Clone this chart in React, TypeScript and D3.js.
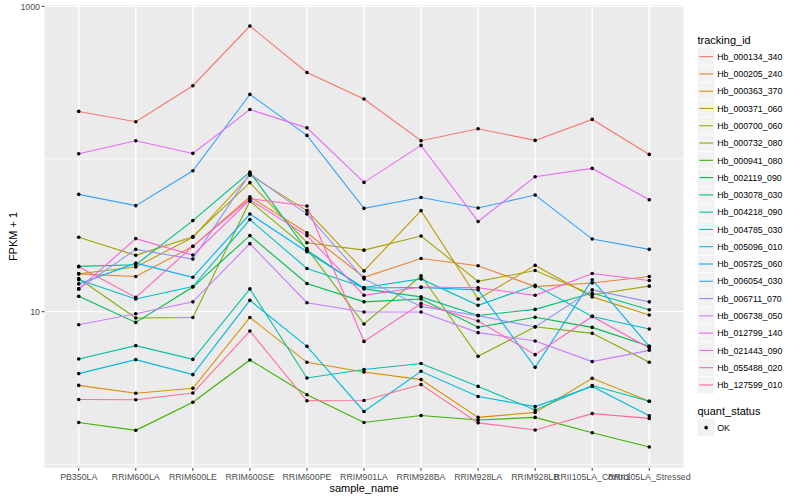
import React from "react";
import * as d3 from "d3";

const sampleNames = [
  "PB350LA", "RRIM600LA", "RRIM600LE", "RRIM600SE", "RRIM600PE", "RRIM901LA",
  "RRIM928BA", "RRIM928LA", "RRIM928LB", "RRII105LA_Control", "RRII105LA_Stressed",
];

const trackingIds = [
  "Hb_000134_340", "Hb_000205_240", "Hb_000363_370", "Hb_000371_060", "Hb_000700_060",
  "Hb_000732_080", "Hb_000941_080", "Hb_002119_090", "Hb_003078_030", "Hb_004218_090",
  "Hb_004785_030", "Hb_005096_010", "Hb_005725_060", "Hb_006054_030", "Hb_006711_070",
  "Hb_006738_050", "Hb_012799_140", "Hb_021443_090", "Hb_055488_020", "Hb_127599_010",
];

const hueColors = [
  "#F8766D", "#EA8331", "#D89000", "#C09B00", "#A3A500", "#7CAE00", "#39B600",
  "#00BB4E", "#00BF7D", "#00C1A3", "#00BFC4", "#00BAE0", "#00B0F6", "#35A2FF",
  "#9590FF", "#C77CFF", "#E76BF3", "#FA62DB", "#FF62BC", "#FF6C91",
];

// FPKM + 1 per sample, one array per tracking_id
const hb000134_340 = [205, 175.5, 302, 743, 369, 247, 131.8, 157.9, 132.4, 181.7, 107.2];
const hb000205_240 = [17.7, 17.0, 26.8, 56.6, 32.9, 16.8, 22.3, 20.0, 14.6, 15.4, 17.0];
const hb000363_370 = [3.29, 2.92, 3.15, 9.17, 4.66, 4.03, 3.59, 2.03, 2.19, 3.66, 2.59];
const hb000371_060 = [17.7, 19.6, 30.7, 78.4, 45.9, 18.5, 45.9, 12.1, 20.1, 12.5, 9.51];
const hb000700_060 = [30.7, 23.4, 31.0, 70.0, 28.3, 25.3, 31.3, 15.8, 18.6, 12.9, 14.7];
const hb000732_080 = [16.5, 9.09, 9.16, 52.9, 25.9, 8.30, 17.2, 5.10, 7.97, 7.21, 4.66];
const hb000941_080 = [1.88, 1.67, 2.55, 4.83, 2.86, 1.88, 2.09, 1.95, 2.03, 1.61, 1.30];
const hb002119_090 = [12.6, 8.51, 14.5, 31.5, 15.3, 11.6, 12.1, 7.91, 9.20, 7.89, 5.93];
const hb003078_030 = [19.8, 20.3, 39.5, 82.0, 25.3, 14.1, 12.5, 9.45, 10.35, 13.25, 10.3];
const hb004218_090 = [4.90, 5.99, 4.87, 14.1, 3.68, 4.18, 4.58, 3.24, 2.27, 3.28, 2.59];
const hb004785_030 = [16.2, 12.1, 14.6, 40.1, 19.2, 14.4, 16.4, 11.0, 14.9, 9.31, 7.71];
const hb005096_010 = [3.93, 4.85, 3.87, 11.86, 5.93, 2.22, 4.07, 2.78, 2.39, 3.24, 2.08];
const hb005725_060 = [15.2, 20.8, 16.8, 43.6, 24.7, 14.3, 14.4, 13.9, 4.32, 16.2, 5.93];
const hb006054_030 = [58.7, 49.5, 83.8, 265, 142.8, 47.5, 56.0, 47.8, 58.1, 29.9, 25.6];
const hb006711_070 = [14.1, 25.6, 22.1, 80.2, 43.6, 16.4, 10.8, 9.42, 7.94, 13.9, 11.6];
const hb006738_050 = [8.21, 9.70, 11.6, 27.9, 11.45, 9.95, 9.95, 7.29, 6.43, 4.71, 5.58];
const hb012799_140 = [108.3, 131.8, 108.8, 211, 160, 70.3, 122.8, 39.0, 76.6, 86.8, 54.1];
const hb021443_090 = [14.1, 30.1, 23.5, 54.1, 31.5, 12.8, 14.5, 14.35, 12.8, 17.8, 16.0];
const hb055488_020 = [19.7, 12.4, 26.8, 54.9, 49.2, 6.39, 11.3, 8.69, 5.23, 9.31, 5.79];
const hb127599_010 = [2.66, 2.65, 2.93, 7.47, 2.61, 2.62, 3.33, 1.87, 1.68, 2.15, 2.00];

const seriesValues = [
  hb000134_340, hb000205_240, hb000363_370, hb000371_060, hb000700_060,
  hb000732_080, hb000941_080, hb002119_090, hb003078_030, hb004218_090,
  hb004785_030, hb005096_010, hb005725_060, hb006054_030, hb006711_070,
  hb006738_050, hb012799_140, hb021443_090, hb055488_020, hb127599_010,
];

const yMajor = [10, 1000];
const yMinor = [1, 100];
const quantStatus = ["OK"];

const FONT = "'Liberation Sans', Arial, Helvetica, sans-serif";

export default function App() {
  const W = 800;
  const H = 500;
  const pL = 44.5, pR = 683.5, pT = 5, pB = 468;

  const x = d3.scalePoint<string>().domain(sampleNames).range([pL, pR]).padding(0.6);
  const all = seriesValues.flat();
  const lo = Math.log10(d3.min(all) as number);
  const hi = Math.log10(d3.max(all) as number);
  const span = hi - lo;
  const y = d3
    .scaleLog()
    .domain([Math.pow(10, lo - 0.05 * span), Math.pow(10, hi + 0.05 * span)])
    .range([pB, pT]);

  const line = d3
    .line<number>()
    .x((_, i) => x(sampleNames[i]) as number)
    .y((d) => y(d));

  const legX = 697.5;
  const keyW = 17.28;
  const legY0 = 48;
  const qsTitleY = 411;

  return (
    <svg
      width={W}
      height={H}
      style={{ position: "absolute", left: 0, top: 0, background: "#fff" }}
      fontFamily={FONT}
    >
      <rect x={pL} y={pT} width={pR - pL} height={pB - pT} fill="#EBEBEB" />
      {yMinor.map((v) => (
        <line key={"mi" + v} x1={pL} x2={pR} y1={y(v)} y2={y(v)} stroke="#fff" strokeWidth={0.7} />
      ))}
      {yMajor.map((v) => (
        <line key={"ma" + v} x1={pL} x2={pR} y1={y(v)} y2={y(v)} stroke="#fff" strokeWidth={1.3} />
      ))}
      {sampleNames.map((s) => (
        <line key={"vx" + s} x1={x(s)} x2={x(s)} y1={pT} y2={pB} stroke="#fff" strokeWidth={1.3} />
      ))}

      {seriesValues.map((vals, k) => (
        <path key={"l" + k} d={line(vals) as string} fill="none" stroke={hueColors[k]} strokeWidth={1.1} />
      ))}
      {seriesValues.map((vals, k) =>
        vals.map((v, i) => (
          <circle key={"p" + k + "_" + i} cx={x(sampleNames[i])} cy={y(v)} r={1.8} fill="#000" />
        ))
      )}

      {/* y axis */}
      {yMajor.map((v) => (
        <g key={"yt" + v}>
          <line x1={pL - 2.75} x2={pL} y1={y(v)} y2={y(v)} stroke="#333" strokeWidth={1} />
          <text x={pL - 4.5} y={y(v) + 3.2} textAnchor="end" fontSize={8.8} fill="#4D4D4D">
            {v}
          </text>
        </g>
      ))}
      {/* x axis */}
      {sampleNames.map((s) => (
        <g key={"xt" + s}>
          <line x1={x(s)} x2={x(s)} y1={pB} y2={pB + 2.75} stroke="#333" strokeWidth={1} />
          <text x={x(s)} y={480} textAnchor="middle" fontSize={8.8} fill="#4D4D4D">
            {s}
          </text>
        </g>
      ))}
      <text x={(pL + pR) / 2} y={492} textAnchor="middle" fontSize={11} fill="#000">
        sample_name
      </text>
      <text
        transform={`translate(16.5, ${(pT + pB) / 2}) rotate(-90)`}
        textAnchor="middle"
        fontSize={11}
        fill="#000"
      >
        FPKM + 1
      </text>

      {/* tracking_id legend */}
      <text x={legX} y={44} fontSize={11} fill="#000">
        tracking_id
      </text>
      {trackingIds.map((id, k) => {
        const top = legY0 + k * keyW;
        return (
          <g key={"lg" + id}>
            <rect x={legX} y={top} width={keyW} height={keyW} fill="#F2F2F2" stroke="#fff" strokeWidth={0.6} />
            <line
              x1={legX + keyW * 0.1}
              x2={legX + keyW * 0.9}
              y1={top + keyW / 2}
              y2={top + keyW / 2}
              stroke={hueColors[k]}
              strokeWidth={1.1}
            />
            <text x={legX + keyW + 2.5} y={top + keyW / 2 + 3.2} fontSize={8.8} fill="#000">
              {id}
            </text>
          </g>
        );
      })}

      {/* quant_status legend */}
      <text x={legX} y={qsTitleY + 4} fontSize={11} fill="#000">
        quant_status
      </text>
      {quantStatus.map((q, k) => {
        const top = qsTitleY + 8 + k * keyW;
        return (
          <g key={"qs" + q}>
            <rect x={legX} y={top} width={keyW} height={keyW} fill="#F2F2F2" />
            <circle cx={legX + keyW / 2} cy={top + keyW / 2} r={1.8} fill="#000" />
            <text x={legX + keyW + 2.5} y={top + keyW / 2 + 3.2} fontSize={8.8} fill="#000">
              {q}
            </text>
          </g>
        );
      })}
    </svg>
  );
}
